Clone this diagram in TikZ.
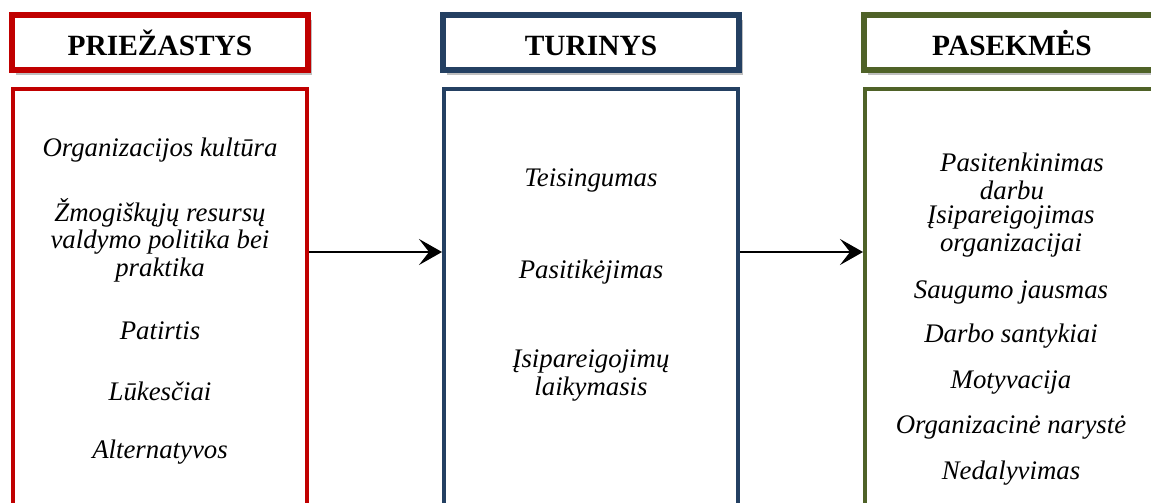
\documentclass[tikz,border=0pt]{standalone}
\usepackage{fontspec}
\setmainfont{Liberation Serif}
\usetikzlibrary{arrows.meta, positioning, shadows}

\definecolor{causered}{RGB}{192,0,0}
\definecolor{contentblue}{RGB}{36,64,98}
\definecolor{effectgreen}{RGB}{79,98,40}

\tikzset{
    headbox/.style={draw=#1, line width=3pt, fill=white, minimum width=148pt,
        minimum height=27.5pt, inner sep=0pt, text height=12.5pt, text depth=0pt,
        font=\fontsize{14.7}{17}\selectfont\bfseries,
        drop shadow={shadow xshift=2pt, shadow yshift=-2.5pt, fill=black, opacity=0.25}},
    listbox/.style={draw=#1, line width=2pt, minimum width=147pt, minimum height=220pt,
        inner sep=0pt, anchor=north},
    item/.style={font=\fontsize{13.4}{13.6}\selectfont\itshape, align=center,
        inner sep=0pt, anchor=base},
    flow/.style={-{Stealth[length=11.5pt, width=13pt, inset=5pt]}, line width=1.3pt},
}

\begin{document}
\begin{tikzpicture}[x=0.5pt, y=-0.5pt]
    \useasboundingbox (0,0) rectangle (1151,503);
    \clip (0,0) rectangle (1151,503);

    % Headers
    \node[headbox=causered] (causeshead) at (160,42.5) {PRIEŽASTYS};
    \node[headbox=contentblue] (contenthead) at (591,42.5) {TURINYS};
    \node[headbox=effectgreen] (effecthead) at (1012,42.5) {PASEKMĖS};

    % Lists
    \node[listbox=causered] (causes) at (160,87) {};
    \node[listbox=contentblue] (content) at (591,87) {};
    \node[listbox=effectgreen] (effects) at (1012,87) {};

    % Causes (multi-line items sit on their last baseline)
    \node[item] (culture) at (160,156) {Organizacijos kultūra};
    \node[item] (hrpolicy) at (160,276) {Žmogiškųjų resursų\\valdymo politika bei\\praktika};
    \node[item] (experience) at (160,339) {Patirtis};
    \node[item] (expectations) at (160,400) {Lūkesčiai};
    \node[item] (alternatives) at (160,458) {Alternatyvos};

    % Content
    \node[item] (fairness) at (591,186) {Teisingumas};
    \node[item] (trust) at (591,278) {Pasitikėjimas};
    \node[item] (keeping) at (591,395) {Įsipareigojimų\\laikymasis};

    % Effects
    \node[item] (satisfaction) at (1012,199) {\hspace*{10pt}Pasitenkinimas\\darbu};
    \node[item] (commitment) at (1011,251) {Įsipareigojimas\\organizacijai};
    \node[item] (safety) at (1011,298) {Saugumo jausmas};
    \node[item] (relations) at (1011,342) {Darbo santykiai};
    \node[item] (motivation) at (1011,388) {Motyvacija};
    \node[item] (membership) at (1011,433) {Organizacinė narystė};
    \node[item] (nonparticipation) at (1011,479) {Nedalyvimas};

    % Arrows
    \coordinate (level) at (0,252);
    \draw[flow] (causes.east |- level) -- (content.west |- level);
    \draw[flow] (content.east |- level) -- (effects.west |- level);
\end{tikzpicture}
\end{document}
